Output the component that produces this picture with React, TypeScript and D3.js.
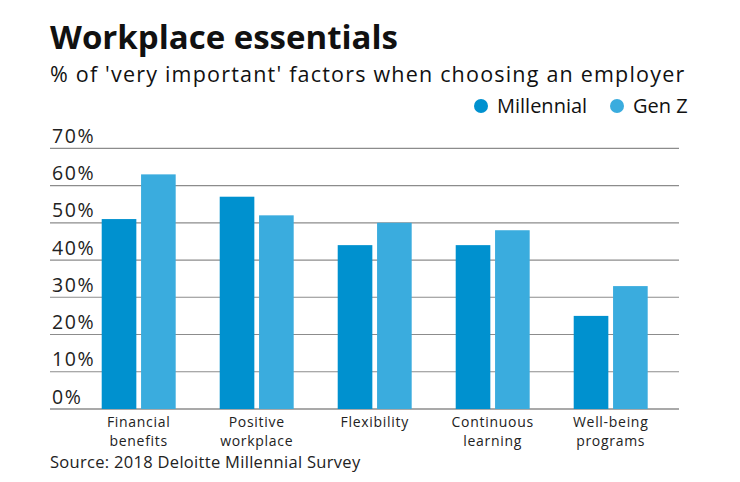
import { useEffect, useRef } from 'react'
import * as d3 from 'd3'

const categories = [
  ['Financial', 'benefits'],
  ['Positive', 'workplace'],
  ['Flexibility'],
  ['Continuous', 'learning'],
  ['Well-being', 'programs'],
]
const seriesNames = ['Millennial', 'Gen Z']
const millennial = [51, 57, 44, 44, 25]
const genZ = [63, 52, 50, 48, 33]
const yTicks = [0, 10, 20, 30, 40, 50, 60, 70]

const colors = ['#0091cf', '#3aacde']
const FONT = '"Open Sans", Lato, sans-serif'

export default function App() {
  const svgRef = useRef<SVGSVGElement>(null)

  useEffect(() => {
    if (!svgRef.current) return
    const width = 740
    const height = 482

    const svg = d3.select(svgRef.current)
    svg.selectAll('*').remove()
    svg.attr('width', width).attr('height', height).style('font-family', FONT)

    svg.append('rect').attr('width', width).attr('height', height).attr('fill', '#fff')

    // title block
    svg.append('text')
      .attr('x', 50).attr('y', 49)
      .style('font-size', '33px').style('font-weight', 700).style('fill', '#111')
      .text('Workplace essentials')
    svg.append('text')
      .attr('x', 50).attr('y', 82)
      .style('font-size', '21.5px').style('letter-spacing', '1.2px').style('fill', '#111')
      .text("% of 'very important' factors when choosing an employer")

    const keys = categories.map(c => c.join(' '))
    const rows = keys.map((k, i) => ({ key: k, values: [millennial[i], genZ[i]] }))

    const x0 = d3.scaleBand()
      .domain(keys)
      .range([79.7, 669.7])
      .paddingInner(0.373)
      .paddingOuter(0.1865)

    const x1 = d3.scaleBand()
      .domain(seriesNames)
      .range([0, x0.bandwidth()])
      .paddingInner(0.12)

    const y = d3.scaleLinear().domain([0, 70]).range([409, 148.3])

    // gridlines + tick labels
    const grid = svg.append('g')
    grid.selectAll('line')
      .data(yTicks)
      .enter().append('line')
      .attr('x1', 50).attr('x2', 679)
      .attr('y1', d => y(d)).attr('y2', d => y(d))
      .attr('stroke', d => (d === 0 ? '#555' : '#8c8c8c'))
      .attr('stroke-width', 1.2)
    grid.selectAll('text')
      .data(yTicks)
      .enter().append('text')
      .attr('x', 52).attr('y', d => y(d) - 5.5)
      .style('font-size', '19.5px').style('letter-spacing', '1.6px').style('fill', '#222')
      .text(d => `${d}%`)

    // bars
    const groups = svg.selectAll('.cat')
      .data(rows)
      .enter().append('g')
      .attr('class', 'cat')
      .attr('transform', d => `translate(${x0(d.key)},0)`)
    groups.selectAll('rect')
      .data(d => d.values.map((v, i) => ({ name: seriesNames[i], v, i })))
      .enter().append('rect')
      .attr('x', d => x1(d.name)!)
      .attr('y', d => y(d.v))
      .attr('width', x1.bandwidth())
      .attr('height', d => y(0) - y(d.v))
      .attr('fill', d => colors[d.i])

    // category labels, one text per line
    const labels = svg.append('g')
    categories.forEach((lines, i) => {
      const cx = x0(keys[i])! + x0.bandwidth() / 2
      lines.forEach((ln, j) => {
        labels.append('text')
          .attr('x', cx).attr('y', 427 + j * 19)
          .attr('text-anchor', 'middle')
          .style('font-size', '14px').style('letter-spacing', '0.7px').style('fill', '#222')
          .text(ln)
      })
    })

    // legend
    const legendX = [481, 617]
    const legend = svg.append('g')
    seriesNames.forEach((name, i) => {
      legend.append('circle')
        .attr('cx', legendX[i]).attr('cy', 106).attr('r', 7)
        .attr('fill', colors[i])
      legend.append('text')
        .attr('x', legendX[i] + 16).attr('y', 113)
        .style('font-size', '20px').style('fill', '#111')
        .text(name)
    })

    svg.append('text')
      .attr('x', 50).attr('y', 468)
      .style('font-size', '16.5px').style('letter-spacing', '0.3px').style('fill', '#222')
      .text('Source: 2018 Deloitte Millennial Survey')
  }, [])

  return (
    <div style={{ position: 'absolute', left: 0, top: 0 }}>
      <svg ref={svgRef}></svg>
    </div>
  )
}
